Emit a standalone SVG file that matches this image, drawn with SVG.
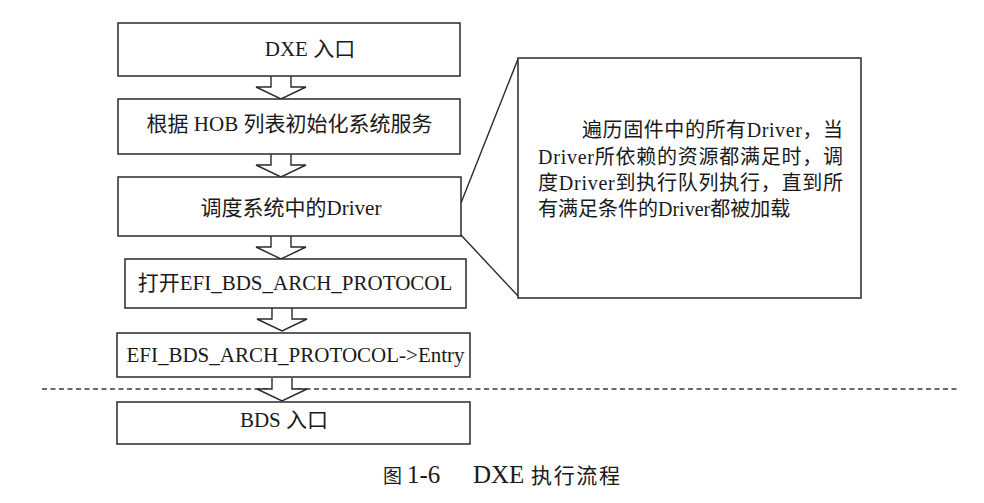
<svg xmlns="http://www.w3.org/2000/svg" width="984" height="503" viewBox="0 0 984 503">
<style>
.box{fill:#fff;stroke:#2a2a2a;stroke-width:1.5}
.t{font-family:"Liberation Serif","Noto Sans CJK SC",serif;font-size:20px;fill:#1a1a1a}
.b{font-size:21px}
.arr{fill:#fff;stroke:#2a2a2a;stroke-width:1.4;stroke-linejoin:miter}
.ln{stroke:#2a2a2a;stroke-width:1.4;fill:none}
.dash{stroke:#3a3a3a;stroke-width:1.3;stroke-dasharray:5 3.5;fill:none}
</style>
<defs>
<path id="arrow" class="arr" d="M-10,0 V11 H-25 L0,23 L25,11 H10 V0"/>
</defs>
<rect width="984" height="503" fill="#fff"/>
<g id="connectors">
<line class="dash" x1="42" y1="389" x2="958" y2="389"/>
<use href="#arrow" x="281" y="76"/>
<use href="#arrow" x="281" y="154"/>
<use href="#arrow" x="281" y="236"/>
<use href="#arrow" x="282" y="308"/>
<use href="#arrow" x="282" y="378"/>
<line class="ln" x1="461" y1="203" x2="518" y2="59"/>
<line class="ln" x1="461" y1="235" x2="518" y2="296"/>
</g>
<g id="n1">
<rect class="box" x="118" y="23" width="342" height="53"/>
<text class="t b" x="310" y="56" text-anchor="middle">DXE 入口</text>
</g>
<g id="n2">
<rect class="box" x="118" y="99" width="342" height="55"/>
<text class="t b" x="289.5" y="131" text-anchor="middle">根据 HOB 列表初始化系统服务</text>
</g>
<g id="n3">
<rect class="box" x="118" y="177" width="343" height="59"/>
<text class="t b" x="291" y="215" text-anchor="middle">调度系统中的Driver</text>
</g>
<g id="n4">
<rect class="box" x="125" y="259" width="341" height="49"/>
<text class="t b" x="295" y="290" text-anchor="middle">打开EFI_BDS_ARCH_PROTOCOL</text>
</g>
<g id="n5">
<rect class="box" x="117" y="333" width="353" height="44"/>
<text class="t b" x="295.5" y="362" text-anchor="middle">EFI_BDS_ARCH_PROTOCOL-&gt;Entry</text>
</g>
<g id="n6">
<rect class="box" x="117" y="402" width="353" height="42"/>
<text class="t b" x="284" y="427" text-anchor="middle">BDS 入口</text>
</g>
<g id="note">
<rect class="box" x="518" y="58" width="343" height="240"/>
<text class="t"><tspan x="582" y="137" textLength="261" lengthAdjust="spacing">遍历固件中的所有Driver，当</tspan><tspan x="538" y="164" textLength="305" lengthAdjust="spacing">Driver所依赖的资源都满足时，调</tspan><tspan x="538" y="190" textLength="305" lengthAdjust="spacing">度Driver到执行队列执行，直到所</tspan><tspan x="538" y="216">有满足条件的Driver都被加载</tspan></text>
</g>
<text class="t" y="483"><tspan x="383" style="font-size:19px">图</tspan><tspan x="407" style="font-size:25px">1-6</tspan><tspan x="473" style="font-size:25px">DXE</tspan><tspan x="531" style="font-size:21px" textLength="89" lengthAdjust="spacing">执行流程</tspan></text>
</svg>
